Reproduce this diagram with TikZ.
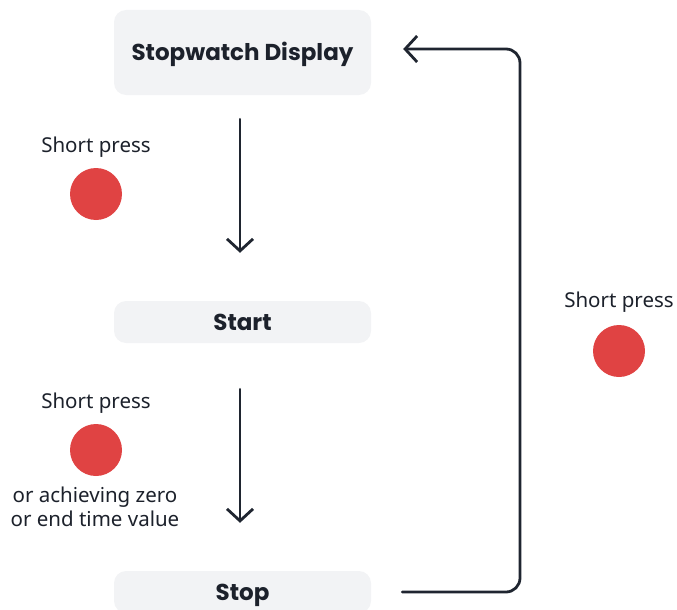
\documentclass[tikz,border=0pt]{standalone}
\usepackage{fontspec}
\setmainfont{Noto Sans}
\newfontfamily\popfont{Poppins}
\usetikzlibrary{arrows.meta}
\definecolor{boxfill}{HTML}{F2F3F5}
\definecolor{ink}{HTML}{1F2530}
\definecolor{dotred}{HTML}{E04343}
\tikzset{
  x=1pt, y=-1pt,
  statebox/.style={fill=boxfill, rounded corners=12pt, minimum width=257pt, inner sep=0pt,
    text height=16pt, text depth=0pt,
    font=\popfont\bfseries\fontsize{23}{27}\selectfont, text=ink!90!black},
  lbl/.style={font=\fontsize{20.5}{24}\selectfont, text=ink!90!black, inner sep=0pt},
  dot/.style={circle, fill=dotred, minimum size=52pt, inner sep=0pt},
  arr/.style={draw=ink, line width=2.8pt, line cap=round,
    -{Straight Barb[length=12pt,width=26pt,line width=2.8pt]}}
}
\begin{document}
\begin{tikzpicture}
\useasboundingbox (0,0) rectangle (677,610);
\clip (0,0) rectangle (677,610);
\node[statebox, minimum height=85pt] (disp) at (242.5,52.5) {Stopwatch Display};
\node[statebox, minimum height=42pt] (start) at (242.5,322) {Start};
\node[statebox, minimum height=42pt] (stop) at (242.5,592) {Stop};
\coordinate (rx) at (520,0);
\node[lbl] (l1) at (96,147) {Short press};
\node[dot] (d1) at (96,194) {};
\node[lbl] (l2) at (96,403) {Short press};
\node[dot] (d2) at (96,450) {};
\node[lbl, align=center] (l3) at (95,507) {or achieving zero\\or end time value};
\node[lbl] (l4) at (619,302) {Short press};
\node[dot] (d4) at (619,351) {};
\draw[arr, shorten <=24pt, shorten >=48pt] (disp.south -| 240,0) -- (start.north -| 240,0);
\draw[arr, shorten <=46pt, shorten >=48pt] (start.south -| 240,0) -- (stop.north -| 240,0);
\draw[arr, rounded corners=14pt, shorten <=31pt, shorten >=32pt]
  (stop.east) -- (stop.east -| rx) -- ([yshift=3.5pt]disp.east -| rx) -- ([yshift=3.5pt]disp.east);
\end{tikzpicture}
\end{document}
